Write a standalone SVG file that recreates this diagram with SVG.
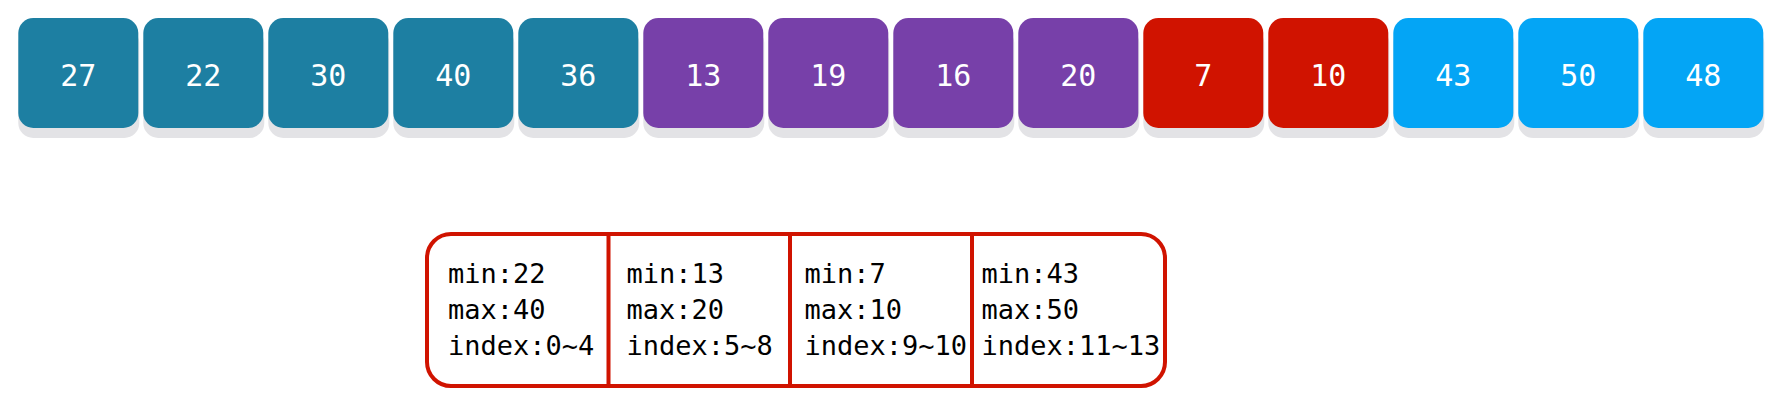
<svg xmlns="http://www.w3.org/2000/svg" width="1783" height="418" viewBox="0 0 1783 418">
<style>
.sh{fill:#e3e3e6}
.t{font-family:"DejaVu Sans Mono","Liberation Mono",monospace;font-size:30px;fill:#ffffff;text-anchor:middle}
.c1{fill:#1d7fa2}.c2{fill:#7740a9}.c3{fill:#d01300}.c4{fill:#04a5f5}
.lbl{font-family:"DejaVu Sans Mono","Liberation Mono",monospace;font-size:27px;fill:#000000}
.frame{fill:#ffffff;stroke:#d01300;stroke-width:4}
.div{stroke:#d01300;stroke-width:4}
</style>
<rect width="1783" height="418" fill="#ffffff"/>
<g id="n0"><rect class="sh" x="18.3" y="28" width="121" height="110" rx="15"/><rect class="c1" x="18.3" y="18" width="120" height="110" rx="15"/><text class="t" x="78.3" y="86">27</text></g>
<g id="n1"><rect class="sh" x="143.3" y="28" width="121" height="110" rx="15"/><rect class="c1" x="143.3" y="18" width="120" height="110" rx="15"/><text class="t" x="203.3" y="86">22</text></g>
<g id="n2"><rect class="sh" x="268.3" y="28" width="121" height="110" rx="15"/><rect class="c1" x="268.3" y="18" width="120" height="110" rx="15"/><text class="t" x="328.3" y="86">30</text></g>
<g id="n3"><rect class="sh" x="393.3" y="28" width="121" height="110" rx="15"/><rect class="c1" x="393.3" y="18" width="120" height="110" rx="15"/><text class="t" x="453.3" y="86">40</text></g>
<g id="n4"><rect class="sh" x="518.3" y="28" width="121" height="110" rx="15"/><rect class="c1" x="518.3" y="18" width="120" height="110" rx="15"/><text class="t" x="578.3" y="86">36</text></g>
<g id="n5"><rect class="sh" x="643.3" y="28" width="121" height="110" rx="15"/><rect class="c2" x="643.3" y="18" width="120" height="110" rx="15"/><text class="t" x="703.3" y="86">13</text></g>
<g id="n6"><rect class="sh" x="768.3" y="28" width="121" height="110" rx="15"/><rect class="c2" x="768.3" y="18" width="120" height="110" rx="15"/><text class="t" x="828.3" y="86">19</text></g>
<g id="n7"><rect class="sh" x="893.3" y="28" width="121" height="110" rx="15"/><rect class="c2" x="893.3" y="18" width="120" height="110" rx="15"/><text class="t" x="953.3" y="86">16</text></g>
<g id="n8"><rect class="sh" x="1018.3" y="28" width="121" height="110" rx="15"/><rect class="c2" x="1018.3" y="18" width="120" height="110" rx="15"/><text class="t" x="1078.3" y="86">20</text></g>
<g id="n9"><rect class="sh" x="1143.3" y="28" width="121" height="110" rx="15"/><rect class="c3" x="1143.3" y="18" width="120" height="110" rx="15"/><text class="t" x="1203.3" y="86">7</text></g>
<g id="n10"><rect class="sh" x="1268.3" y="28" width="121" height="110" rx="15"/><rect class="c3" x="1268.3" y="18" width="120" height="110" rx="15"/><text class="t" x="1328.3" y="86">10</text></g>
<g id="n11"><rect class="sh" x="1393.3" y="28" width="121" height="110" rx="15"/><rect class="c4" x="1393.3" y="18" width="120" height="110" rx="15"/><text class="t" x="1453.3" y="86">43</text></g>
<g id="n12"><rect class="sh" x="1518.3" y="28" width="121" height="110" rx="15"/><rect class="c4" x="1518.3" y="18" width="120" height="110" rx="15"/><text class="t" x="1578.3" y="86">50</text></g>
<g id="n13"><rect class="sh" x="1643.3" y="28" width="121" height="110" rx="15"/><rect class="c4" x="1643.3" y="18" width="120" height="110" rx="15"/><text class="t" x="1703.3" y="86">48</text></g>
<g id="summary">
<rect class="frame" x="427" y="234" width="738" height="152" rx="24"/>
<line class="div" x1="608.5" y1="234" x2="608.5" y2="386"/>
<line class="div" x1="790" y1="234" x2="790" y2="386"/>
<line class="div" x1="972" y1="234" x2="972" y2="386"/>
<text class="lbl" x="448" y="283">min:22</text>
<text class="lbl" x="448" y="319">max:40</text>
<text class="lbl" x="448" y="355">index:0~4</text>
<text class="lbl" x="626.5" y="283">min:13</text>
<text class="lbl" x="626.5" y="319">max:20</text>
<text class="lbl" x="626.5" y="355">index:5~8</text>
<text class="lbl" x="804.5" y="283">min:7</text>
<text class="lbl" x="804.5" y="319">max:10</text>
<text class="lbl" x="804.5" y="355">index:9~10</text>
<text class="lbl" x="981.5" y="283">min:43</text>
<text class="lbl" x="981.5" y="319">max:50</text>
<text class="lbl" x="981.5" y="355">index:11~13</text>
</g>
<g id="connectors"></g>
</svg>
